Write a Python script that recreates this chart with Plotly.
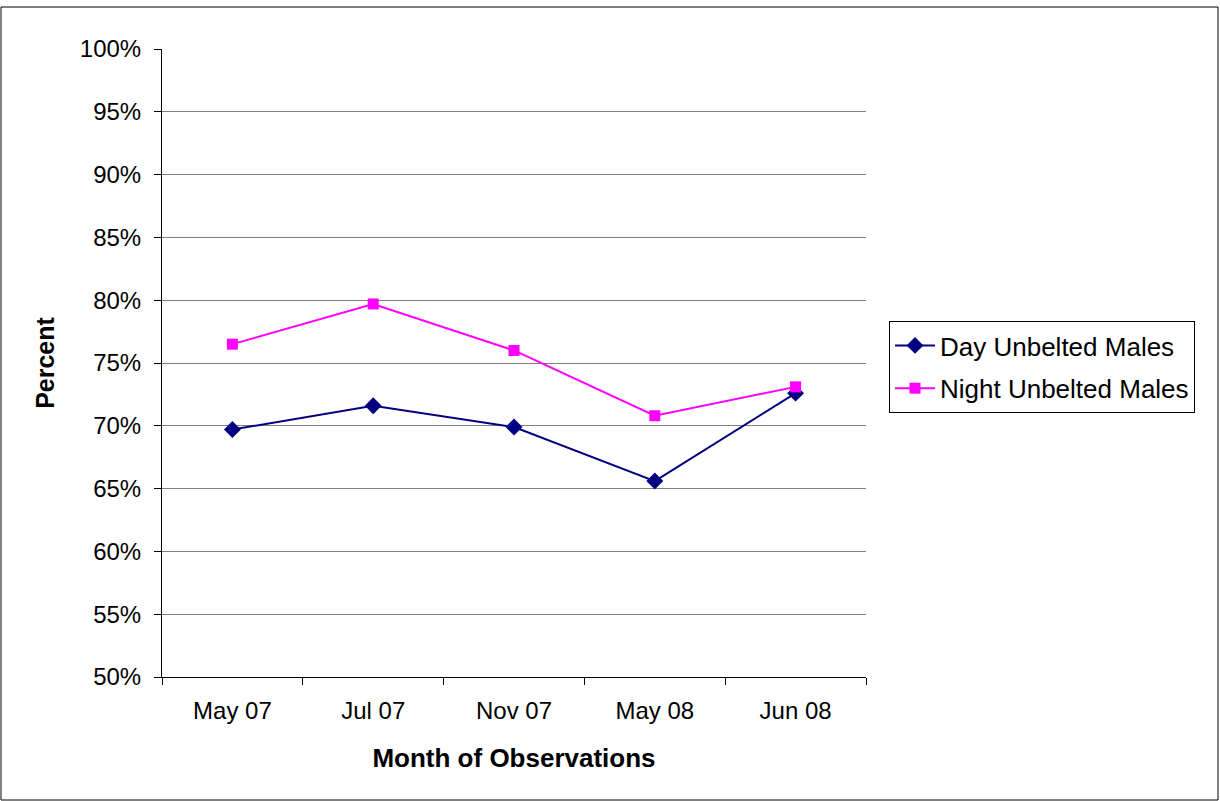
import plotly.graph_objects as go

months = ["May 07", "Jul 07", "Nov 07", "May 08", "Jun 08"]
day_unbelted = [69.7, 71.6, 69.9, 65.6, 72.6]
night_unbelted = [76.5, 79.7, 76.0, 70.8, 73.1]
y_ticks = [50, 55, 60, 65, 70, 75, 80, 85, 90, 95, 100]
y_labels = [f"{v}%" for v in y_ticks]

W, H = 1220, 801
L, R, T, B = 162, 866, 49, 677

fig = go.Figure()
fig.add_trace(go.Scatter(
    x=months, y=day_unbelted, name="Day Unbelted Males", mode="lines+markers",
    line=dict(color="#000080", width=2),
    marker=dict(symbol="diamond", size=13, color="#000080"),
    legendgroup="a",
))
fig.add_trace(go.Scatter(
    x=months, y=night_unbelted, name="Night Unbelted Males", mode="lines+markers",
    line=dict(color="#FF00FF", width=2),
    marker=dict(symbol="square", size=11, color="#FF00FF"),
    legendgroup="b",
))

def px(x):
    return (x - L) / (R - L)

def py(y):
    return (B - y) / (B - T)

fig.update_layout(
    width=W, height=H,
    margin=dict(l=L, r=W - R, t=T, b=H - B),
    paper_bgcolor="white", plot_bgcolor="white",
    font=dict(family="Liberation Sans, Arial, sans-serif", size=24, color="black"),
    showlegend=True,
    legend=dict(
        x=px(889), y=py(321), xanchor="left", yanchor="top",
        bordercolor="black", borderwidth=1, bgcolor="white",
        font=dict(size=26), tracegroupgap=6, traceorder="grouped",
        itemwidth=40,
    ),
    xaxis=dict(
        type="category", tickson="boundaries", ticks="outside", ticklen=7,
        tickcolor="black", showline=True, linecolor="black", linewidth=1,
        showgrid=False, mirror=False, tickfont=dict(size=24),
        ticklabelstandoff=12,
        title=dict(text="<b>Month of Observations</b>", font=dict(size=26), standoff=26),
        range=[-0.5, 4.5],
    ),
    yaxis=dict(
        range=[50, 100], tickvals=y_ticks, ticktext=y_labels,
        ticks="outside", ticklen=7, tickcolor="black",
        showline=True, linecolor="black", linewidth=1,
        showgrid=True, gridcolor="#808080", gridwidth=1,
        zeroline=False, tickfont=dict(size=24), ticklabelstandoff=8,
        title=dict(text="<b>Percent</b>", font=dict(size=25), standoff=18),
    ),
    shapes=[dict(
        type="rect", xref="paper", yref="paper",
        x0=px(1), x1=px(1218), y0=py(800), y1=py(7),
        line=dict(color="black", width=1), fillcolor="rgba(0,0,0,0)", layer="below",
    )],
)

fig.write_html("out.html", post_script="document.body.style.margin='0';",
               config={"displayModeBar": False})
